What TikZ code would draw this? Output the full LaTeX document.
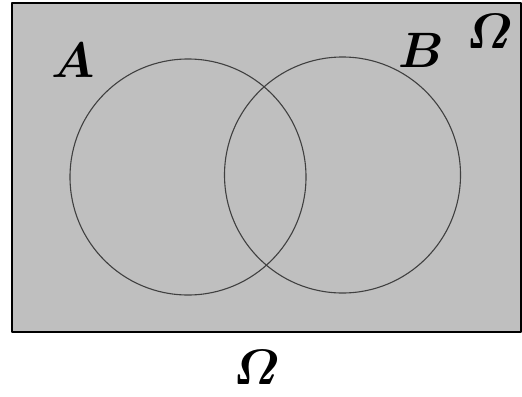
\documentclass[tikz,border=0pt]{standalone}
\usepackage{amsmath}
\begin{document}
\begin{tikzpicture}[
        x=0.5pt,
        y=-0.5pt,
        line join=round,
        setlabel/.style={inner sep=0pt, font=\fontsize{25}{30}\selectfont\boldmath}
    ]
        % 圆的半径
        \def\r{59pt}

        \useasboundingbox (0,0) rectangle (522,396);

        % 全集 Omega（灰色矩形）
        \draw[fill=black!25, line width=0.9pt] (12,3) rectangle (521,332);

        % 集合 A 与 B
        \draw[black!75, line width=0.55pt] (188,177) circle[radius=\r];
        \draw[black!75, line width=0.55pt] (342.5,175) circle[radius=\r];

        % 标签
        \node[setlabel] (labA) at (73,60) {$A$};
        \node[setlabel] (labB) at (421,50) {$B$};
        \node[setlabel] (omegaIn) at (490,31) {$\varOmega$};
        \node[setlabel] (omegaOut) at (257,367) {$\varOmega$};
    \end{tikzpicture}
\end{document}
